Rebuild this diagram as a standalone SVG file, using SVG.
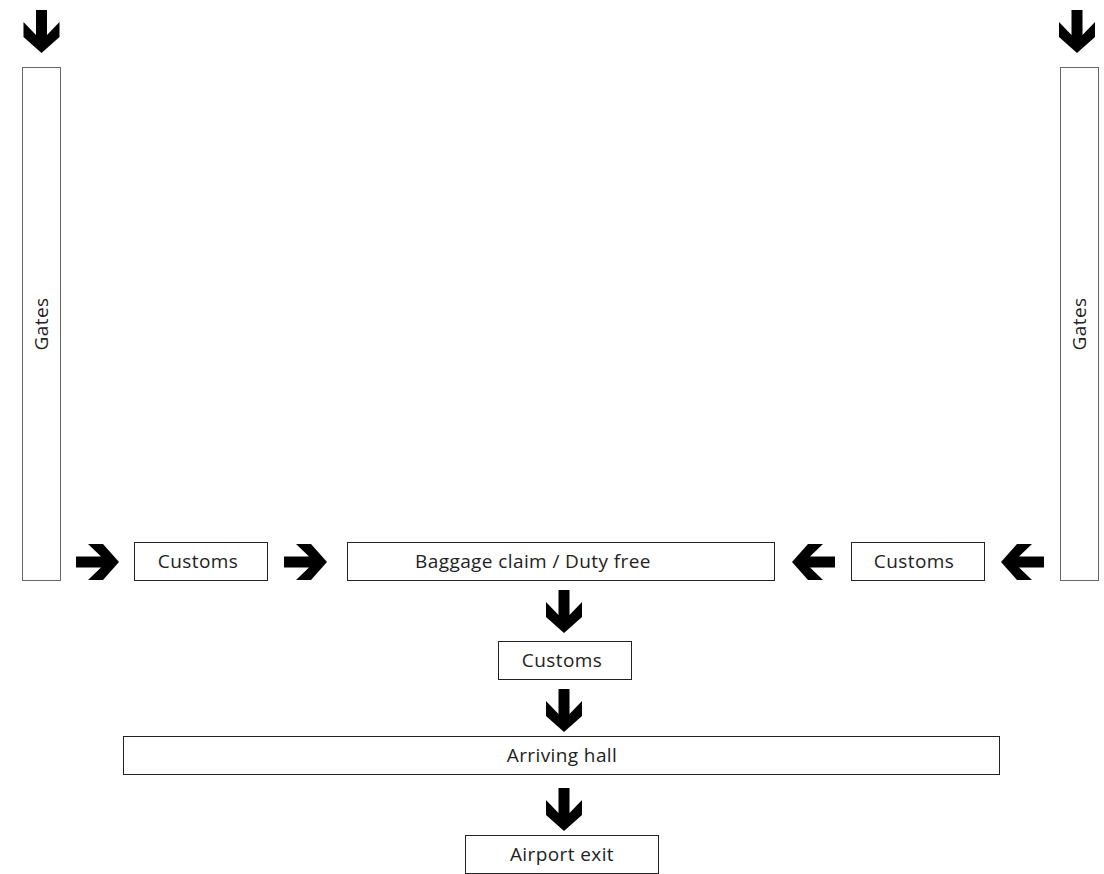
<svg xmlns="http://www.w3.org/2000/svg" width="1104" height="874" viewBox="0 0 1104 874">
<style>
.box{fill:#fff;stroke:#222;stroke-width:1}
.gate{fill:#fff;stroke:#666;stroke-width:1}
.lbl{font-family:"Open Sans","Noto Sans",sans-serif;font-size:19px;letter-spacing:0.4px;fill:#222}
.arr{fill:#000}
</style>
<defs>
<polygon id="down" points="-5.5,0 5.5,0 5.5,25 18,12 18,27 0,43 -18,27 -18,12 -5.5,25"/>
</defs>
<rect width="1104" height="874" fill="#fff"/>
<g id="gates-left"><rect class="gate" x="22.5" y="67.5" width="38" height="513"/><text class="lbl" text-anchor="middle" transform="translate(48,324) rotate(-90)">Gates</text></g>
<g id="gates-right"><rect class="gate" x="1060.5" y="67.5" width="38" height="513"/><text class="lbl" text-anchor="middle" transform="translate(1086,324) rotate(-90)">Gates</text></g>
<g id="customs-left"><rect class="box" x="134.5" y="542.5" width="133" height="38"/><text class="lbl" x="198" y="568" text-anchor="middle">Customs</text></g>
<g id="baggage"><rect class="box" x="347.5" y="542.5" width="427" height="38"/><text class="lbl" x="533" y="568" text-anchor="middle">Baggage claim / Duty free</text></g>
<g id="customs-right"><rect class="box" x="851.5" y="542.5" width="133" height="38"/><text class="lbl" x="914" y="568" text-anchor="middle">Customs</text></g>
<g id="customs-mid"><rect class="box" x="498.5" y="641.5" width="133" height="38"/><text class="lbl" x="562" y="667" text-anchor="middle">Customs</text></g>
<g id="arriving-hall"><rect class="box" x="123.5" y="736.5" width="876" height="38"/><text class="lbl" x="562" y="762" text-anchor="middle">Arriving hall</text></g>
<g id="airport-exit"><rect class="box" x="465.5" y="835.5" width="193" height="38"/><text class="lbl" x="562" y="861" text-anchor="middle">Airport exit</text></g>
<g id="connectors" class="arr">
<use href="#down" transform="translate(41.5,10)"/>
<use href="#down" transform="translate(1077,10)"/>
<use href="#down" transform="translate(76,562) rotate(-90)"/>
<use href="#down" transform="translate(284,562) rotate(-90)"/>
<use href="#down" transform="translate(835,562) rotate(90)"/>
<use href="#down" transform="translate(1044,562) rotate(90)"/>
<use href="#down" transform="translate(564,590)"/>
<use href="#down" transform="translate(564,689)"/>
<use href="#down" transform="translate(564,788)"/>
</g>
</svg>
